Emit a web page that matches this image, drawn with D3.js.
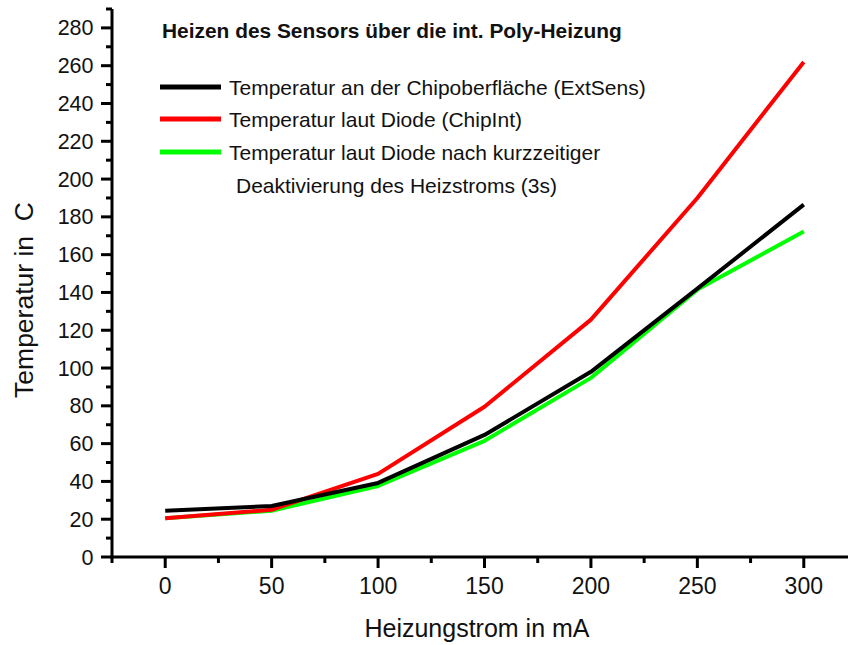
<!DOCTYPE html>
<html>
<head>
<meta charset="utf-8">
<script src="https://cdn.jsdelivr.net/npm/d3@7"></script>
<style>
  html, body { margin: 0; padding: 0; background: #fff; }
  svg text { font-family: "Liberation Sans", Arial, sans-serif; fill: #111; }
</style>
</head>
<body>
<svg id="chart" width="848" height="645"></svg>
<script>
// Heating current (mA)
const current = [0, 50, 100, 150, 200, 250, 300];
// Temperature series (°C)
const tempSurface = [24.5, 27, 39.2, 64.6, 98, 142, 186.5];   // ExtSens
const tempDiode = [20.5, 25, 44, 79.5, 125.6, 190, 262];       // ChipInt
const tempDiodeOff = [20.5, 24.5, 37.6, 61.5, 94.8, 141.5, 172.3];

const xTicks = [0, 50, 100, 150, 200, 250, 300];
const yTicks = d3.range(0, 281, 20);

const seriesNames = [
  "Temperatur an der Chipoberfläche (ExtSens)",
  "Temperatur laut Diode (ChipInt)",
  "Temperatur laut Diode nach kurzzeitiger"
];
const seriesColors = ["#000000", "#ff0000", "#00ff00"];
const chartTitle = "Heizen des Sensors über die int. Poly-Heizung";

const svg = d3.select("#chart");

const x = d3.scaleLinear().domain([-25, 325]).range([112, 857]);
const y = d3.scaleLinear().domain([0, 290]).range([557, 9]);

// x axis
const xAxis = svg.append("g").attr("transform", `translate(0,${y(0)})`);
xAxis.append("line").attr("x1", x(-25) - 1.5).attr("x2", 848)
  .attr("stroke", "#000").attr("stroke-width", 3);
xAxis.selectAll(".minor").data(d3.range(-25, 326, 50)).join("line")
  .attr("x1", d => x(d)).attr("x2", d => x(d)).attr("y1", 0).attr("y2", 6)
  .attr("stroke", "#000").attr("stroke-width", 3);
xAxis.selectAll(".major").data(xTicks).join("line")
  .attr("x1", d => x(d)).attr("x2", d => x(d)).attr("y1", 0).attr("y2", 11)
  .attr("stroke", "#000").attr("stroke-width", 3);
xAxis.selectAll("text").data(xTicks).join("text")
  .attr("x", d => x(d)).attr("y", 37).attr("text-anchor", "middle")
  .attr("font-size", 23).text(d => d);

// y axis
const yAxis = svg.append("g").attr("transform", `translate(${x(-25)},0)`);
yAxis.append("line").attr("y1", y(290)).attr("y2", y(0) + 1.5)
  .attr("stroke", "#000").attr("stroke-width", 3);
yAxis.selectAll(".minor").data(d3.range(10, 291, 20)).join("line")
  .attr("y1", d => y(d)).attr("y2", d => y(d)).attr("x1", 0).attr("x2", -6)
  .attr("stroke", "#000").attr("stroke-width", 3);
yAxis.selectAll(".major").data(yTicks).join("line")
  .attr("y1", d => y(d)).attr("y2", d => y(d)).attr("x1", 0).attr("x2", -11)
  .attr("stroke", "#000").attr("stroke-width", 3);
yAxis.selectAll("text").data(yTicks).join("text")
  .attr("x", -18.5).attr("y", d => y(d) + 7.5).attr("text-anchor", "end")
  .attr("font-size", 21.5).text(d => d);

// axis titles
svg.append("text").attr("x", 477).attr("y", 637).attr("text-anchor", "middle")
  .attr("font-size", 25).text("Heizungstrom in mA");
svg.append("text").attr("transform", "translate(33,300) rotate(-90)")
  .attr("text-anchor", "middle").attr("font-size", 26.5)
  .style("white-space", "pre").text("Temperatur in  C");

// data lines
const line = d3.line().x(d => x(d[0])).y(d => y(d[1]));
const allSeries = [tempSurface, tempDiode, tempDiodeOff];
[2, 1, 0].forEach(i => {
  svg.append("path")
    .datum(current.map((c, j) => [c, allSeries[i][j]]))
    .attr("d", line).attr("fill", "none")
    .attr("stroke", seriesColors[i]).attr("stroke-width", 4)
    .attr("stroke-linejoin", "round");
});

// title + legend
svg.append("text").attr("x", 162).attr("y", 38).attr("font-size", 20.9)
  .attr("font-weight", "bold").text(chartTitle);
const legendY = [87, 119, 152];
seriesNames.forEach((name, i) => {
  svg.append("line").attr("x1", 160).attr("x2", 221)
    .attr("y1", legendY[i]).attr("y2", legendY[i])
    .attr("stroke", seriesColors[i]).attr("stroke-width", 5);
  svg.append("text").attr("x", 229).attr("y", legendY[i] + 8)
    .attr("font-size", 21).text(name);
});
svg.append("text").attr("x", 236).attr("y", 193).attr("font-size", 21)
  .text("Deaktivierung des Heizstroms (3s)");
</script>
</body>
</html>
